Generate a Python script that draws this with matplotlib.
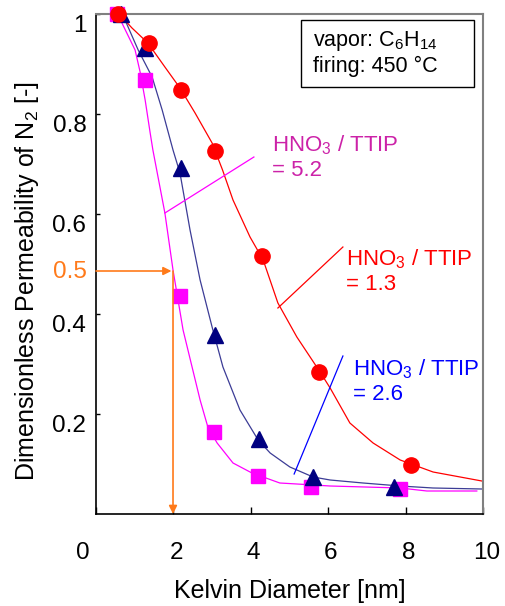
import matplotlib
matplotlib.use("Agg")
import matplotlib.pyplot as plt
from matplotlib.transforms import ScaledTranslation
from matplotlib.patches import Rectangle

plt.rcParams['font.family'] = ['Liberation Sans', 'DejaVu Sans']
plt.rcParams['mathtext.fontset'] = 'custom'
plt.rcParams['mathtext.rm'] = 'Liberation Sans'
plt.rcParams['mathtext.it'] = 'Liberation Sans:italic'
plt.rcParams['mathtext.bf'] = 'Liberation Sans:bold'

# ---- data: measured points ----
x_13 = [0.57, 1.37, 2.20, 3.07, 4.29, 5.76, 8.14]
y_13 = [1.000, 0.942, 0.848, 0.726, 0.516, 0.284, 0.098]

x_26 = [0.65, 1.27, 2.20, 3.07, 4.20, 5.60, 7.70]
y_26 = [1.000, 0.932, 0.692, 0.358, 0.150, 0.074, 0.054]

x_52 = [0.54, 1.27, 2.17, 3.05, 4.19, 5.56, 7.86]
y_52 = [1.000, 0.868, 0.436, 0.164, 0.076, 0.054, 0.050]

# ---- data: fitted curves ----
cx_13 = [0.62, 0.93, 1.34, 1.78, 2.17, 2.56, 3.00, 3.27, 3.54, 3.98, 4.32, 4.70, 5.19,
         5.79, 6.05, 6.56, 7.16, 7.86, 8.71, 9.41, 9.97]
cy_13 = [0.998, 0.972, 0.942, 0.894, 0.852, 0.802, 0.742, 0.688, 0.628, 0.554, 0.508, 0.422,
         0.354, 0.284, 0.252, 0.182, 0.142, 0.108, 0.084, 0.074, 0.066]

cx_26 = [0.62, 0.75, 1.09, 1.45, 1.71, 1.99, 2.17, 2.43, 2.69, 3.00, 3.28, 3.72, 4.19,
         4.50, 5.01, 5.61, 6.05, 6.90, 7.86, 8.71, 9.97]
cy_26 = [1.000, 0.988, 0.928, 0.874, 0.808, 0.728, 0.682, 0.568, 0.468, 0.374, 0.294,
         0.208, 0.148, 0.122, 0.094, 0.074, 0.068, 0.062, 0.056, 0.052, 0.050]

cx_52 = [0.54, 0.67, 1.01, 1.14, 1.27, 1.40, 1.47, 1.78, 1.99, 2.25, 2.69, 2.89, 3.13,
         3.54, 4.03, 4.75, 5.19, 6.05, 7.86, 8.55, 9.84]
cy_52 = [1.000, 0.982, 0.928, 0.884, 0.828, 0.762, 0.728, 0.602, 0.488, 0.368, 0.228,
         0.174, 0.142, 0.102, 0.082, 0.062, 0.060, 0.056, 0.052, 0.046, 0.046]

x_ticks = [0, 2, 4, 6, 8, 10]
y_ticks = [0.2, 0.4, 0.6, 0.8, 1.0]
y_tick_labels = ['0.2', '0.4', '0.6', '0.8', '1']

half_y = 0.486
half_x = 1.99

fig = plt.figure(figsize=(5.05, 6.06), dpi=100)
ax = fig.add_axes([96/505, 92/606, 387/505, 500/606])
ax.set_xlim(0, 10)
ax.set_ylim(0, 1)

# curves
ax.plot(cx_52, cy_52, color='#FF00FF', lw=0.9, zorder=2)
ax.plot(cx_26, cy_26, color='#3C3C96', lw=0.9, zorder=2)
ax.plot(cx_13, cy_13, color='#FF0000', lw=0.9, zorder=2)

# markers
ax.plot(x_52, y_52, ls='none', marker='s', ms=10, color='#FF00FF', zorder=3, clip_on=False)
ax.plot(x_26, y_26, ls='none', marker='^', ms=11, color='#000080', zorder=4, clip_on=False)
ax.plot(x_13, y_13, ls='none', marker='o', ms=11, color='#FF0000', zorder=5, clip_on=False)

# leader lines + labels
ax.plot([1.78, 4.08], [0.602, 0.714], color='#FF00FF', lw=0.9, zorder=2)
ax.text(4.55, 0.713, 'HNO$_3$ / TTIP\n= 5.2', color='#CC22A8', fontsize=16,
        ha='left', va='center', linespacing=1.2)

ax.plot([4.70, 6.38], [0.412, 0.534], color='#FF0000', lw=0.9, zorder=2)
ax.text(6.45, 0.485, 'HNO$_3$ / TTIP\n= 1.3', color='#FF0000', fontsize=16,
        ha='left', va='center', linespacing=1.2)

ax.plot([5.12, 6.38], [0.080, 0.316], color='#0000FF', lw=0.9, zorder=2)
ax.text(6.63, 0.266, 'HNO$_3$ / TTIP\n= 2.6', color='#0000FF', fontsize=16,
        ha='left', va='center', linespacing=1.2)

# orange guide arrows
orange = '#FF7A1A'
ax.annotate('', xy=(half_x - 0.04, half_y), xytext=(0, half_y),
            arrowprops=dict(arrowstyle='-|>', color=orange, lw=1.2, mutation_scale=12,
                            shrinkA=0, shrinkB=0), zorder=6, annotation_clip=False)
ax.annotate('', xy=(half_x, 0.0), xytext=(half_x, half_y),
            arrowprops=dict(arrowstyle='-|>', color=orange, lw=1.2, mutation_scale=12,
                            shrinkA=0, shrinkB=0), zorder=6, annotation_clip=False)
ax.text(0, 0.5, '0.5', color=orange, fontsize=17.5, ha='right', va='center',
        transform=ax.get_yaxis_transform() + ScaledTranslation(-9/100, -8/100, fig.dpi_scale_trans))

# info box
ax.add_patch(Rectangle((0.530, 0.854), 0.447, 0.134, transform=ax.transAxes,
                       fc='white', ec='black', lw=1.0, zorder=7))
ax.text(0.561, 0.922, 'vapor: C$_6$H$_{14}$\nfiring: 450 °C', transform=ax.transAxes,
        fontsize=15.5, ha='left', va='center', linespacing=1.15, zorder=8)

# axes styling
ax.set_xticks(x_ticks)
ax.set_xticklabels([str(v) for v in x_ticks])
ax.set_yticks(y_ticks)
ax.set_yticklabels(y_tick_labels)
ax.tick_params(axis='x', direction='in', length=5, width=1, pad=20, labelsize=17.5)
ax.tick_params(axis='y', direction='in', length=3, width=1, pad=7, labelsize=17.5)
for lbl in ax.get_yticklabels():
    lbl.set_transform(lbl.get_transform() + ScaledTranslation(0, -9/100, fig.dpi_scale_trans))
x_offsets = [-13, 3, 2, 2, 3, 4]
for lbl, dx in zip(ax.get_xticklabels(), x_offsets):
    lbl.set_transform(lbl.get_transform() + ScaledTranslation(dx/100, 0, fig.dpi_scale_trans))

for side in ['left', 'bottom']:
    ax.spines[side].set_color('black')
    ax.spines[side].set_linewidth(1.2)
for side in ['top', 'right']:
    ax.spines[side].set_color('#808080')
    ax.spines[side].set_linewidth(1.5)

ax.set_xlabel('Kelvin Diameter [nm]', fontsize=18, labelpad=11)
ax.set_ylabel('Dimensionless Permeability of N$_2$ [-]', fontsize=18)
ax.yaxis.set_label_coords(-0.142, 0.466)

fig.savefig('out.png', dpi=100)
